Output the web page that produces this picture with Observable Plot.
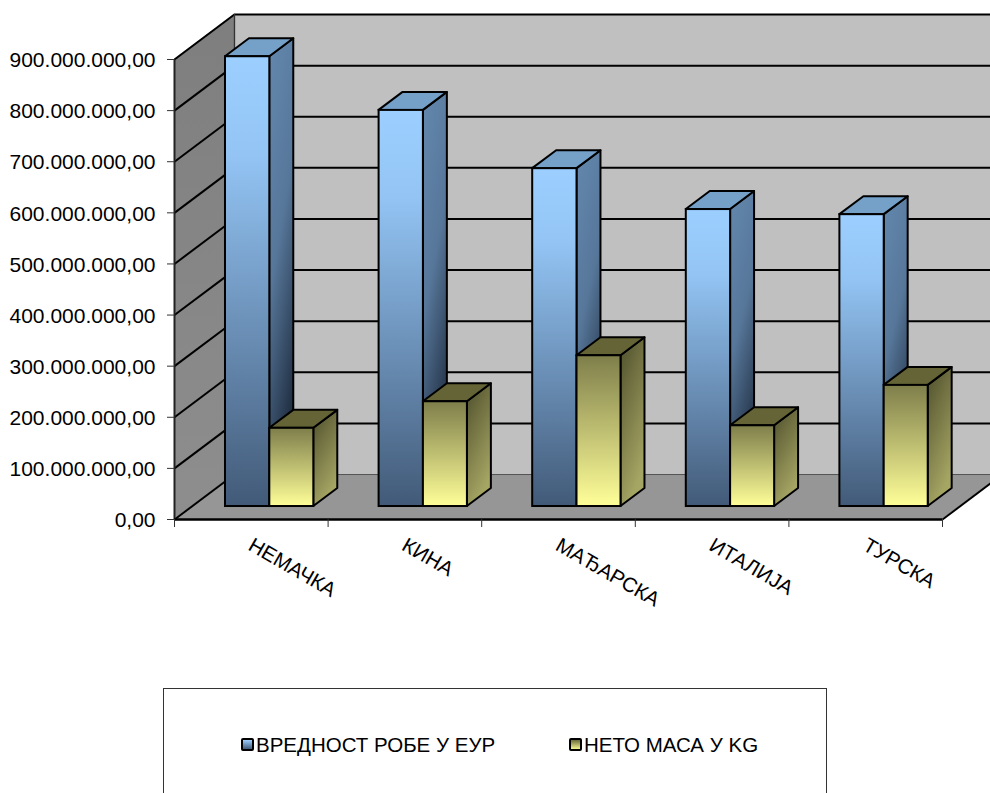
<!DOCTYPE html>
<html>
<head>
<meta charset="utf-8">
<script src="https://cdn.jsdelivr.net/npm/d3@7"></script>
<script src="https://cdn.jsdelivr.net/npm/@observablehq/plot@0.6"></script>
<style>
html,body{margin:0;padding:0;background:#fff;width:990px;height:793px;overflow:hidden;font-family:"Liberation Sans",Arial,sans-serif;}
#chart{position:absolute;left:0;top:0;width:990px;height:680px;}
#legend{position:absolute;left:163px;top:688px;width:664px;height:130px;border:1px solid #333;box-sizing:border-box;border-width:1.5px 1px 1px 1px;}
.item{position:absolute;top:44px;font-size:20.5px;line-height:24px;color:#000;white-space:nowrap;}
.sw{position:absolute;top:5px;left:0;width:9px;height:9px;border:2px solid #000;border-radius:2px;}
.item span.t{margin-left:15px;}
</style>
</head>
<body>
<div id="chart"></div>
<div id="legend"></div>
<script>
const categories = ["НЕМАЧКА", "КИНА", "МАЂАРСКА", "ИТАЛИЈА", "ТУРСКА"];
const valueEur = [880000000, 775000000, 661000000, 581000000, 571000000];
const massKg = [153000000, 205000000, 295000000, 158000000, 237000000];
const seriesNames = ["ВРЕДНОСТ РОБЕ У ЕУР", "НЕТО МАСА У KG"];
const yTicks = [0, 100000000, 200000000, 300000000, 400000000, 500000000, 600000000, 700000000, 800000000, 900000000];

// projection of the 3D box, in scale units
const wallDx = 0.39, wallDy = 88000000;
const barDx = 0.156, barDy = 35200000;
const barBase = 25400000, barStart = 0.332, blueW = 0.2885, yellowW = 0.2865;

const fmt = d3.formatLocale({decimal: ",", thousands: ".", grouping: [3], currency: ["", ""]}).format(",.2f");

const gradients = [
  ["blueFront", [0, 0, 0, 1], [["0%", "#9ccfff"], ["22%", "#93c4f4"], ["100%", "#425a78"]]],
  ["blueSide", [0, 0, 0.3, 1], [["0%", "#6388ae"], ["50%", "#57779a"], ["100%", "#1f2d40"]]],
  ["yellowFront", [0, 0, 0, 1], [["0%", "#7e7e4b"], ["100%", "#ffff99"]]],
  ["yellowSide", [0, 0, 0.4, 1], [["0%", "#4e4e2c"], ["100%", "#a6a664"]]],
  ["wallSide", [0, 0, 0, 1], [["0%", "#7e7e7e"], ["100%", "#8e8e8e"]]]
];
const defs = () => {
  const d = d3.create("svg:defs");
  gradients.forEach(([id, v, stops]) => {
    const g = d.append("linearGradient").attr("id", id)
      .attr("x1", v[0]).attr("y1", v[1]).attr("x2", v[2]).attr("y2", v[3]);
    stops.forEach(([o, c]) => g.append("stop").attr("offset", o).attr("stop-color", c));
  });
  return d.node();
};

// parallelogram face: edge a->b swept by (dx,dy)
const face = (id, ax, ay, bx, by, dx, dy) => [
  {id, x1: ax, y1: ay, x2: ax + dx, y2: ay + dy},
  {id, x1: bx, y1: by, x2: bx + dx, y2: by + dy}
];
const faces = (rows, fill, stroke = "#000", strokeWidth = 2) =>
  Plot.area(rows, {x1: "x1", y1: "y1", x2: "x2", y2: "y2", z: "id", fill, stroke, strokeWidth, strokeLinejoin: "round", curve: "linear"});

const n = categories.length;
const yTop = yTicks[yTicks.length - 1];

function barMarks(values, x0, w, frontFill, sideFill, topFill, name) {
  const front = values.map((v, i) => ({x1: x0(i), x2: x0(i) + w, y1: barBase, y2: barBase + v}));
  const side = values.flatMap((v, i) => face(name + i, x0(i) + w, barBase, x0(i) + w, barBase + v, barDx, barDy));
  const cap = values.flatMap((v, i) => face(name + "t" + i, x0(i), barBase + v, x0(i) + w, barBase + v, barDx, barDy));
  return [
    faces(side, sideFill),
    faces(cap, topFill),
    Plot.rect(front, {x1: "x1", x2: "x2", y1: "y1", y2: "y2", fill: frontFill, stroke: "#000", strokeWidth: 2})
  ];
}

const blueX = i => i + barStart;
const yellowX = i => i + barStart + blueW;

const plot = Plot.plot({
  width: 990,
  height: 680,
  marginLeft: 174,
  marginRight: 48,
  marginTop: 59,
  marginBottom: 161,
  x: {type: "linear", domain: [0, n], range: [174, 942], axis: null},
  y: {type: "linear", domain: [0, yTop], range: [519, 59], axis: null},
  style: {fontFamily: "'Liberation Sans', Arial, sans-serif", fontSize: "21px", background: "#fff", color: "#000", overflow: "hidden"},
  marks: [
    defs,
    // floor
    faces(face("floor", 0, 0, n, 0, wallDx, wallDy), "#969696", "none"),
    // side wall
    faces(face("side", 0, 0, 0, yTop, wallDx, wallDy), "url(#wallSide)", "none"),
    // back wall
    Plot.rect([{}], {x1: wallDx, x2: n + wallDx, y1: wallDy, y2: yTop + wallDy, fill: "#c0c0c0", stroke: "none"}),
    // gridlines on back and side wall
    Plot.ruleY(yTicks.slice(1), {y: d => d + wallDy, x1: wallDx, x2: n + wallDx, stroke: "#000", strokeWidth: 2}),
    Plot.link(yTicks, {x1: 0, y1: d => d, x2: wallDx, y2: d => d + wallDy, stroke: "#000", strokeWidth: 2}),
    Plot.ruleX([wallDx], {y1: wallDy, y2: yTop + wallDy, stroke: "#333", strokeWidth: 1.5}),
    Plot.ruleY([wallDy], {x1: wallDx, x2: n + wallDx, stroke: "#555", strokeWidth: 1}),
    Plot.link([n], {x1: d => d, y1: 0, x2: d => d + wallDx, y2: wallDy, stroke: "#000", strokeWidth: 2}),
    // axes
    Plot.ruleX([0], {y1: 0, y2: yTop, stroke: "#222", strokeWidth: 2}),
    Plot.ruleY([0], {x1: 0, x2: n, stroke: "#000", strokeWidth: 2.5}),
    Plot.axisY({ticks: yTicks, anchor: "left", tickSize: 7, tickFormat: () => "", stroke: "#333", label: null}),
    Plot.text(yTicks, {x: () => 0, y: d => d, text: d => fmt(d), textAnchor: "end", lineAnchor: "middle", dx: -19, dy: 1, fontSize: 21, fill: "#000"}),
    Plot.axisX({ticks: d3.range(0, n + 1), anchor: "bottom", tickSize: 8, tickFormat: () => "", stroke: "#333", label: null}),
    // bars
    ...categories.flatMap((c, i) => [
      ...barMarks([valueEur[i]], () => blueX(i), blueW, "url(#blueFront)", "url(#blueSide)", "#75a0c8", "b" + i),
      ...barMarks([massKg[i]], () => yellowX(i), yellowW, "url(#yellowFront)", "url(#yellowSide)", "#646436", "y" + i)
    ]),
    // category labels
    Plot.text(categories, {
      x: (d, i) => i + 0.5,
      y: () => 0,
      text: d => d,
      rotate: 30,
      textAnchor: "start",
      lineAnchor: "middle",
      dx: -1,
      dy: 24,
      fontSize: 20.5,
      fill: "#000"
    })
  ]
});
document.getElementById("chart").appendChild(plot);

const legendStops = [["#9ccfff", "#425a78"], ["#6a6a3c", "#f5f590"]];
const legendLeft = [77, 405];
const legend = document.getElementById("legend");
seriesNames.forEach((name, i) => {
  const item = document.createElement("div");
  item.className = "item";
  item.style.left = legendLeft[i] + "px";
  const sw = document.createElement("div");
  sw.className = "sw";
  sw.style.background = `linear-gradient(${legendStops[i][0]},${legendStops[i][1]})`;
  const t = document.createElement("span");
  t.className = "t";
  t.textContent = name;
  item.append(sw, t);
  legend.appendChild(item);
});
</script>
</body>
</html>
